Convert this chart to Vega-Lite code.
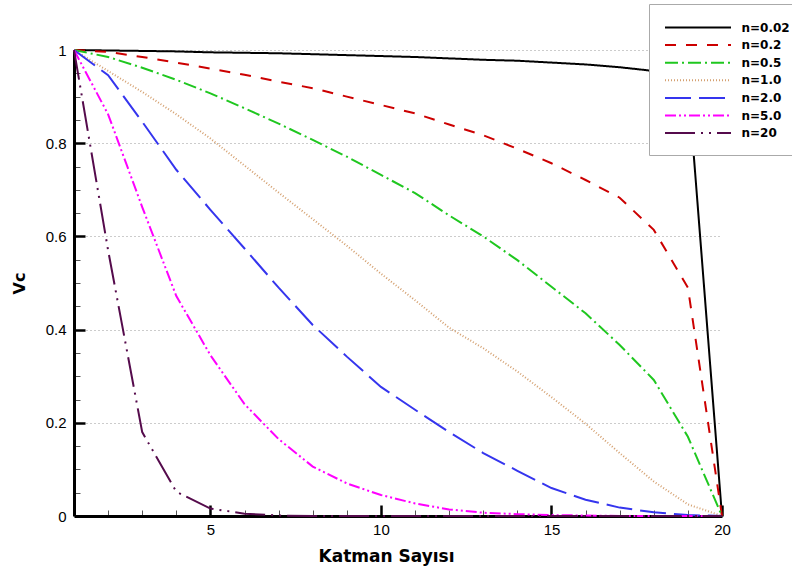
{
  "$schema": "https://vega.github.io/schema/vega-lite/v6.json",
  "width": 648,
  "height": 466,
  "autosize": {"type": "none"},
  "padding": {"left": 74, "top": 50, "right": 70, "bottom": 55},
  "config": {"view": {"stroke": null}, "font": "Liberation Sans"},
  "data": {"values": [
    {"n":"n=0.02","k":1,"vc":1},{"n":"n=0.02","k":2,"vc":0.999},{"n":"n=0.02","k":3,"vc":0.998},{"n":"n=0.02","k":4,"vc":0.997},{"n":"n=0.02","k":5,"vc":0.995},{"n":"n=0.02","k":6,"vc":0.994},{"n":"n=0.02","k":7,"vc":0.993},{"n":"n=0.02","k":8,"vc":0.991},{"n":"n=0.02","k":9,"vc":0.989},{"n":"n=0.02","k":10,"vc":0.987},{"n":"n=0.02","k":11,"vc":0.985},{"n":"n=0.02","k":12,"vc":0.982},{"n":"n=0.02","k":13,"vc":0.979},{"n":"n=0.02","k":14,"vc":0.977},{"n":"n=0.02","k":15,"vc":0.973},{"n":"n=0.02","k":16,"vc":0.969},{"n":"n=0.02","k":17,"vc":0.963},{"n":"n=0.02","k":18,"vc":0.955},{"n":"n=0.02","k":19,"vc":0.935},{"n":"n=0.02","k":20,"vc":0},
    {"n":"n=0.2","k":1,"vc":1},{"n":"n=0.2","k":2,"vc":0.996},{"n":"n=0.2","k":3,"vc":0.985},{"n":"n=0.2","k":4,"vc":0.973},{"n":"n=0.2","k":5,"vc":0.96},{"n":"n=0.2","k":6,"vc":0.947},{"n":"n=0.2","k":7,"vc":0.932},{"n":"n=0.2","k":8,"vc":0.918},{"n":"n=0.2","k":9,"vc":0.9},{"n":"n=0.2","k":10,"vc":0.882},{"n":"n=0.2","k":11,"vc":0.864},{"n":"n=0.2","k":12,"vc":0.84},{"n":"n=0.2","k":13,"vc":0.817},{"n":"n=0.2","k":14,"vc":0.788},{"n":"n=0.2","k":15,"vc":0.757},{"n":"n=0.2","k":16,"vc":0.721},{"n":"n=0.2","k":17,"vc":0.683},{"n":"n=0.2","k":18,"vc":0.614},{"n":"n=0.2","k":19,"vc":0.49},{"n":"n=0.2","k":20,"vc":0},
    {"n":"n=0.5","k":1,"vc":1},{"n":"n=0.5","k":2,"vc":0.985},{"n":"n=0.5","k":3,"vc":0.962},{"n":"n=0.5","k":4,"vc":0.936},{"n":"n=0.5","k":5,"vc":0.907},{"n":"n=0.5","k":6,"vc":0.875},{"n":"n=0.5","k":7,"vc":0.842},{"n":"n=0.5","k":8,"vc":0.807},{"n":"n=0.5","k":9,"vc":0.771},{"n":"n=0.5","k":10,"vc":0.732},{"n":"n=0.5","k":11,"vc":0.693},{"n":"n=0.5","k":12,"vc":0.645},{"n":"n=0.5","k":13,"vc":0.6},{"n":"n=0.5","k":14,"vc":0.549},{"n":"n=0.5","k":15,"vc":0.492},{"n":"n=0.5","k":16,"vc":0.435},{"n":"n=0.5","k":17,"vc":0.367},{"n":"n=0.5","k":18,"vc":0.292},{"n":"n=0.5","k":19,"vc":0.17},{"n":"n=0.5","k":20,"vc":0},
    {"n":"n=1.0","k":1,"vc":1},{"n":"n=1.0","k":2,"vc":0.955},{"n":"n=1.0","k":3,"vc":0.91},{"n":"n=1.0","k":4,"vc":0.862},{"n":"n=1.0","k":5,"vc":0.81},{"n":"n=1.0","k":6,"vc":0.752},{"n":"n=1.0","k":7,"vc":0.694},{"n":"n=1.0","k":8,"vc":0.637},{"n":"n=1.0","k":9,"vc":0.58},{"n":"n=1.0","k":10,"vc":0.52},{"n":"n=1.0","k":11,"vc":0.463},{"n":"n=1.0","k":12,"vc":0.404},{"n":"n=1.0","k":13,"vc":0.36},{"n":"n=1.0","k":14,"vc":0.31},{"n":"n=1.0","k":15,"vc":0.255},{"n":"n=1.0","k":16,"vc":0.198},{"n":"n=1.0","k":17,"vc":0.135},{"n":"n=1.0","k":18,"vc":0.074},{"n":"n=1.0","k":19,"vc":0.025},{"n":"n=1.0","k":20,"vc":0},
    {"n":"n=2.0","k":1,"vc":1},{"n":"n=2.0","k":2,"vc":0.946},{"n":"n=2.0","k":3,"vc":0.846},{"n":"n=2.0","k":4,"vc":0.743},{"n":"n=2.0","k":5,"vc":0.657},{"n":"n=2.0","k":6,"vc":0.574},{"n":"n=2.0","k":7,"vc":0.49},{"n":"n=2.0","k":8,"vc":0.41},{"n":"n=2.0","k":9,"vc":0.342},{"n":"n=2.0","k":10,"vc":0.277},{"n":"n=2.0","k":11,"vc":0.228},{"n":"n=2.0","k":12,"vc":0.18},{"n":"n=2.0","k":13,"vc":0.135},{"n":"n=2.0","k":14,"vc":0.097},{"n":"n=2.0","k":15,"vc":0.06},{"n":"n=2.0","k":16,"vc":0.035},{"n":"n=2.0","k":17,"vc":0.018},{"n":"n=2.0","k":18,"vc":0.008},{"n":"n=2.0","k":19,"vc":0.002},{"n":"n=2.0","k":20,"vc":0},
    {"n":"n=5.0","k":1,"vc":1},{"n":"n=5.0","k":2,"vc":0.862},{"n":"n=5.0","k":3,"vc":0.663},{"n":"n=5.0","k":4,"vc":0.472},{"n":"n=5.0","k":5,"vc":0.345},{"n":"n=5.0","k":6,"vc":0.24},{"n":"n=5.0","k":7,"vc":0.165},{"n":"n=5.0","k":8,"vc":0.106},{"n":"n=5.0","k":9,"vc":0.07},{"n":"n=5.0","k":10,"vc":0.045},{"n":"n=5.0","k":11,"vc":0.027},{"n":"n=5.0","k":12,"vc":0.014},{"n":"n=5.0","k":13,"vc":0.007},{"n":"n=5.0","k":14,"vc":0.004},{"n":"n=5.0","k":15,"vc":0.002},{"n":"n=5.0","k":16,"vc":0.001},{"n":"n=5.0","k":17,"vc":0},{"n":"n=5.0","k":18,"vc":0},{"n":"n=5.0","k":19,"vc":0},{"n":"n=5.0","k":20,"vc":0},
    {"n":"n=20","k":1,"vc":1},{"n":"n=20","k":2,"vc":0.57},{"n":"n=20","k":3,"vc":0.18},{"n":"n=20","k":4,"vc":0.052},{"n":"n=20","k":5,"vc":0.016},{"n":"n=20","k":6,"vc":0.005},{"n":"n=20","k":7,"vc":0.001},{"n":"n=20","k":8,"vc":0},{"n":"n=20","k":9,"vc":0},{"n":"n=20","k":10,"vc":0},{"n":"n=20","k":11,"vc":0},{"n":"n=20","k":12,"vc":0},{"n":"n=20","k":13,"vc":0},{"n":"n=20","k":14,"vc":0},{"n":"n=20","k":15,"vc":0},{"n":"n=20","k":16,"vc":0},{"n":"n=20","k":17,"vc":0},{"n":"n=20","k":18,"vc":0},{"n":"n=20","k":19,"vc":0},{"n":"n=20","k":20,"vc":0}
  ]},
  "layer": [
    {
      "mark": {"type": "line", "strokeOpacity": 0},
      "encoding": {
        "x": {
          "field": "k", "type": "quantitative",
          "scale": {"domain": [1, 20], "nice": false, "zero": false},
          "axis": {
            "orient": "bottom", "title": null, "labels": true, "labelColor": "#ffffff", "labelFontSize": 1, "labelPadding": 20, "domain": false, "grid": false,
            "ticks": true, "tickSize": -6, "tickWidth": 1, "tickColor": "#555555",
            "values": [2,3,4,6,7,8,9,11,12,13,14,16,17,18,19]
          }
        },
        "y": {
          "field": "vc", "type": "quantitative",
          "scale": {"domain": [0, 1], "nice": false},
          "axis": {
            "orient": "left", "title": null, "labels": true, "labelColor": "#ffffff", "labelFontSize": 1, "labelPadding": 20, "domain": false, "grid": false,
            "ticks": true, "tickSize": -6, "tickWidth": 1, "tickColor": "#555555",
            "values": [0.05,0.1,0.15,0.25,0.3,0.35,0.45,0.5,0.55,0.65,0.7,0.75,0.85,0.9,0.95]
          }
        },
        "detail": {"field": "n", "type": "nominal"}
      }
    },
    {
      "mark": {"type": "line", "strokeOpacity": 0},
      "encoding": {
        "x": {
          "field": "k", "type": "quantitative",
          "axis": {
            "orient": "bottom", "title": null, "labels": true, "labelColor": "#ffffff", "labelFontSize": 1, "labelPadding": 25, "domain": false, "grid": false,
            "ticks": true, "tickSize": -11, "tickWidth": 2.5, "tickColor": "#000000",
            "values": [5,10,15,20]
          }
        },
        "y": {
          "field": "vc", "type": "quantitative",
          "axis": {
            "orient": "left", "title": null, "labels": true, "labelColor": "#ffffff", "labelFontSize": 1, "labelPadding": 25, "domain": false, "grid": false,
            "ticks": true, "tickSize": -11, "tickWidth": 2.5, "tickColor": "#000000",
            "values": [0.2,0.4,0.6,0.8,1]
          }
        },
        "detail": {"field": "n", "type": "nominal"}
      }
    },
    {
      "mark": {"type": "line", "strokeWidth": 2},
      "encoding": {
        "x": {
          "field": "k", "type": "quantitative",
          "axis": {
            "orient": "bottom",
            "title": "Katman Sayısı",
            "values": [5,10,15,20],
            "format": "d",
            "ticks": false,
            "labelOverlap": false, "labelFlush": false,
            "labelFont": "Liberation Sans", "labelFontSize": 15, "labelColor": "#000",
            "labelPadding": 6,
            "domainColor": "#000", "domainWidth": 3,
            "grid": false,
            "titleFont": "DejaVu Sans", "titleFontSize": 17, "titleFontWeight": "bold", "titleColor": "#000",
            "titlePadding": 11, "titleX": 312
          }
        },
        "y": {
          "field": "vc", "type": "quantitative",
          "axis": {
            "orient": "left",
            "title": "Vc",
            "values": [0,0.2,0.4,0.6,0.8,1],
            "format": "~g",
            "ticks": false,
            "labelOverlap": false, "labelFlush": false,
            "labelFont": "Liberation Sans", "labelFontSize": 15, "labelColor": "#000",
            "labelPadding": 8,
            "domainColor": "#000", "domainWidth": 3,
            "grid": true, "gridColor": "#999999", "gridDash": [1, 3], "gridWidth": 1,
            "titleFont": "DejaVu Sans", "titleFontSize": 16, "titleFontWeight": "bold", "titleColor": "#000",
            "titlePadding": 18
          }
        },
        "color": {
          "field": "n", "type": "nominal",
          "scale": {
            "domain": ["n=0.02","n=0.2","n=0.5","n=1.0","n=2.0","n=5.0","n=20"],
            "range": ["#000000","#cc0000","#1fc71f","#d4a070","#3535ee","#ff00ff","#550b4c"]
          },
          "legend": {
            "title": null, "orient": "none", "legendX": 575, "legendY": -46,
            "symbolType": "M-1,0H7.8", "symbolSize": 225, "symbolStrokeWidth": 2,
            "labelOffset": 60.5, "labelFont": "DejaVu Sans", "labelFontWeight": "bold", "labelFontSize": 12, "labelColor": "#000", "labelLimit": 200,
            "padding": 15, "rowPadding": 2.6,
            "strokeColor": "#aaaaaa", "fillColor": "#ffffff"
          }
        },
        "strokeDash": {
          "field": "n", "type": "nominal",
          "scale": {
            "domain": ["n=0.02","n=0.2","n=0.5","n=1.0","n=2.0","n=5.0","n=20"],
            "range": [[1,0],[11,10],[13,4,2,4],[1,2],[26,8],[11,3,2,3,2,3],[30,6,2,6,2,6]]
          },
          "legend": {
            "title": null, "orient": "none", "legendX": 575, "legendY": -46,
            "symbolType": "M-1,0H7.8", "symbolSize": 225, "symbolStrokeWidth": 2,
            "labelOffset": 60.5, "labelFont": "DejaVu Sans", "labelFontWeight": "bold", "labelFontSize": 12, "labelColor": "#000", "labelLimit": 200,
            "padding": 15, "rowPadding": 2.6,
            "strokeColor": "#aaaaaa", "fillColor": "#ffffff"
          }
        }
      }
    }
  ],
  "resolve": {"axis": {"x": "independent", "y": "independent"}}
}
